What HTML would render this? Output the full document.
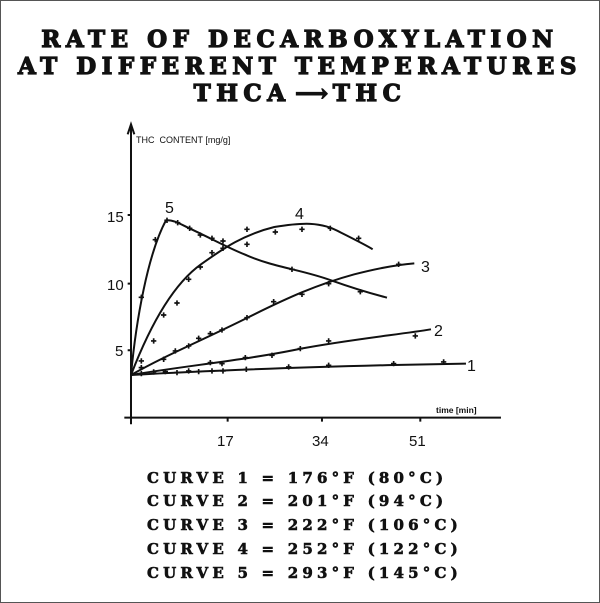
<!DOCTYPE html>
<html><head><style>
body{margin:0;background:#fff;}
.wrap{position:relative;width:598px;height:601px;border:1px solid #555;overflow:hidden;background:#fff}
.t{position:absolute;left:0;width:598px;text-align:center;font-family:"DejaVu Serif",serif;font-weight:900;font-size:23px;letter-spacing:5.5px;color:#111;-webkit-text-stroke:1.2px #111;white-space:nowrap}
.c{position:absolute;left:146px;font-family:"DejaVu Serif",serif;font-weight:900;font-size:15px;letter-spacing:4.2px;color:#111;-webkit-text-stroke:0.6px #111;white-space:nowrap}
</style></head><body><div class="wrap">
<div class="t" style="top:25px">RATE OF DECARBOXYLATION</div>
<div class="t" style="top:52px">AT DIFFERENT TEMPERATURES</div>
<div class="t" style="top:79px">THCA<span style="letter-spacing:0">&#x2009;⟶&#x2009;</span>THC</div>
<svg width="600" height="603" style="position:absolute;left:0;top:0">
<g transform="translate(100,120) scale(0.3333)" fill="none" stroke="#111" stroke-width="6">
<path d="M90,910 V10 M80,40 L90,10 L100,40" />
<path d="M70,890 H1200" />
<path d="M90,888 v20 M380,888 v14 M663,888 v14 M958,888 v14"/>
<path d="M80,282 h12 M80,488 h12 M80,688 h12"/>
<path d="M90,762 C105,600 140,400 195,298 C215,295 240,310 265,322 C330,352 380,380 430,400 C520,440 600,445 690,478 C780,510 820,520 858,530"/>
<path d="M90,762 C160,580 230,480 300,430 C370,380 430,340 520,318 C600,305 660,300 720,335 C770,360 800,375 815,385"/>
<path d="M90,762 C200,700 300,660 440,590 C560,530 650,490 760,460 C850,437 900,430 940,427"/>
<path d="M90,762 C250,735 450,715 600,683 C750,655 900,640 990,625"/>
<path d="M90,762 C300,750 560,740 880,732 L1095,728"/>
<g stroke-width="5">
<path d="M113,529 h16 M121,521 v16 M155,356 h16 M163,348 v16 M190,298 h16 M198,290 v16 M222,305 h16 M230,297 v16 M258,322 h16 M266,314 v16 M290,342 h16 M298,334 v16 M325,352 h16 M333,344 v16 M358,360 h16 M366,352 v16 M565,445 h16 M573,437 v16 M770,512 h16 M778,504 v16"/>
<path d="M150,660 h16 M158,652 v16 M180,582 h16 M188,574 v16 M220,546 h16 M228,538 v16 M255,475 h16 M263,467 v16 M290,438 h16 M298,430 v16 M325,395 h16 M333,387 v16 M358,382 h16 M366,374 v16 M430,325 h16 M438,317 v16 M430,370 h16 M438,362 v16 M515,333 h16 M523,325 v16 M595,325 h16 M603,317 v16 M680,322 h16 M688,314 v16 M765,352 h16 M773,344 v16"/>
<path d="M113,720 h16 M121,712 v16 M180,715 h16 M188,707 v16 M215,690 h16 M223,682 v16 M255,675 h16 M263,667 v16 M285,652 h16 M293,644 v16 M320,638 h16 M328,630 v16 M355,627 h16 M363,619 v16 M430,590 h16 M438,582 v16 M510,542 h16 M518,534 v16 M595,520 h16 M603,512 v16 M675,488 h16 M683,480 v16 M885,430 h16 M893,422 v16"/>
<path d="M113,740 h16 M121,732 v16 M320,725 h16 M328,717 v16 M355,728 h16 M363,720 v16 M425,710 h16 M433,702 v16 M505,703 h16 M513,695 v16 M590,683 h16 M598,675 v16 M675,660 h16 M683,652 v16 M935,645 h16 M943,637 v16"/>
<path d="M113,758 h16 M121,750 v16 M150,753 h16 M158,745 v16 M185,752 h16 M193,744 v16 M220,755 h16 M228,747 v16 M255,750 h16 M263,742 v16 M285,752 h16 M293,744 v16 M325,750 h16 M333,742 v16 M358,750 h16 M366,742 v16 M428,745 h16 M436,737 v16 M555,738 h16 M563,730 v16 M675,733 h16 M683,725 v16 M870,728 h16 M878,720 v16 M1020,723 h16 M1028,715 v16"/>
</g></g>
<g font-family="Liberation Sans,sans-serif" fill="#111">
<text x="135" y="142" font-size="9">THC&#160; CONTENT [mg/g]</text>
<text x="435" y="412" font-size="8.5" font-weight="bold">time [min]</text>
<text x="106" y="221" font-size="15">15</text>
<text x="106" y="289" font-size="15">10</text>
<text x="114" y="355" font-size="15">5</text>
<text x="216" y="445" font-size="15">17</text>
<text x="311" y="445" font-size="15">34</text>
<text x="408" y="445" font-size="15">51</text>
<text x="164" y="212" font-size="16">5</text>
<text x="294" y="218" font-size="16">4</text>
<text x="420" y="271" font-size="16">3</text>
<text x="433" y="335" font-size="16">2</text>
<text x="466" y="370" font-size="16">1</text>
</g></svg>
<div class="c" style="top:468px">CURVE 1 = 176°F (80°C)</div>
<div class="c" style="top:491px">CURVE 2 = 201°F (94°C)</div>
<div class="c" style="top:515px">CURVE 3 = 222°F (106°C)</div>
<div class="c" style="top:539px">CURVE 4 = 252°F (122°C)</div>
<div class="c" style="top:563px">CURVE 5 = 293°F (145°C)</div>
</div></body></html>
